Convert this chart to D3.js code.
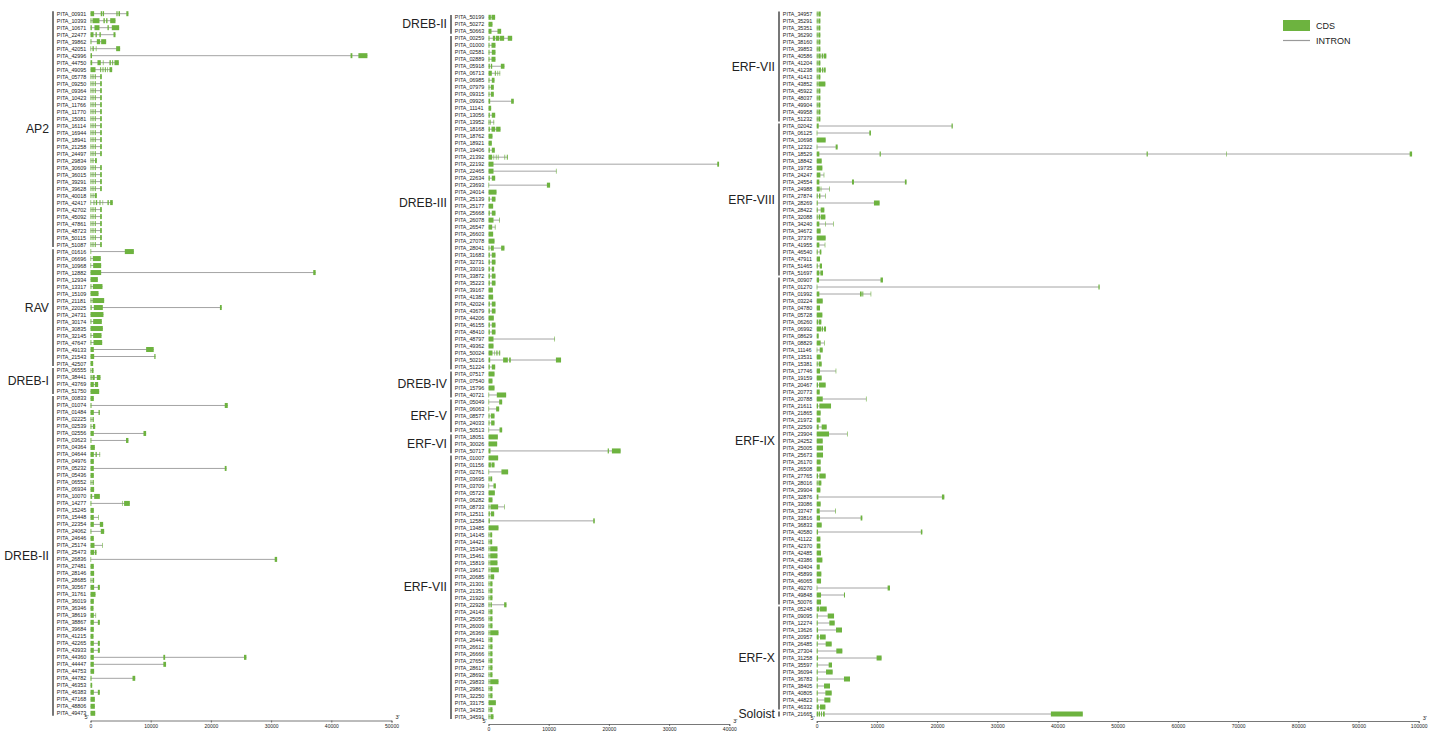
<!DOCTYPE html>
<html>
<head>
<meta charset="utf-8">
<script src="https://cdn.jsdelivr.net/npm/d3@7"></script>
<style>
  body { margin: 0; background: #fff; }
  svg { display: block; font-family: "Liberation Sans", Arial, sans-serif; }
</style>
</head>
<body>
<svg id="chart" width="1444" height="732"></svg>
<script>
// Each gene: [id, CDS intervals as [start, end] in bp from the 5' end]
const AP2 = [
  ["PITA_00931", [[0,600],[1700,1950],[2050,2250],[4300,4500],[4650,4900],[5950,6300]]],
  ["PITA_10393", [[0,160],[330,1490],[2150,2380],[2600,2820],[3270,4150]]],
  ["PITA_10671", [[0,220],[660,1490],[2820,3040],[3540,4760]]],
  ["PITA_22477", [[0,500],[830,1050],[1490,1710],[3820,4150]]],
  ["PITA_39862", [[0,160],[1050,1600],[1770,2600]]],
  ["PITA_42051", [[0,110],[330,550],[880,990],[4260,4920]]],
  ["PITA_42996", [[0,250],[43200,43500],[44500,46000]]],
  ["PITA_44750", [[0,280],[1160,1710],[2050,2160],[3150,3380],[3600,3760],[3980,4700]]],
  ["PITA_49095", [[0,830],[1600,1770],[1990,2160],[2380,2550],[2770,2880],[3150,3600]]],
  ["PITA_05778", [[0,150],[330,500],[700,880],[1600,1880]]],
  ["PITA_09250", [[0,150],[330,500],[700,880],[1600,1880]]],
  ["PITA_09364", [[0,150],[330,500],[700,880],[1600,1880]]],
  ["PITA_10423", [[0,150],[330,500],[700,880],[1600,1880]]],
  ["PITA_11766", [[0,150],[330,500],[700,880],[1600,1880]]],
  ["PITA_11770", [[0,150],[330,500],[700,880],[1600,1880]]],
  ["PITA_15081", [[0,150],[330,500],[700,880],[1600,1880]]],
  ["PITA_16114", [[0,150],[330,500],[700,880],[1600,1880]]],
  ["PITA_16944", [[0,150],[330,500],[700,880],[1600,1880]]],
  ["PITA_18941", [[0,150],[330,500],[700,880],[1600,1880]]],
  ["PITA_21258", [[0,150],[330,500],[700,880],[1600,1880]]],
  ["PITA_24497", [[0,150],[330,500],[700,880],[1600,1880]]],
  ["PITA_29834", [[0,150],[330,500],[750,1050]]],
  ["PITA_30609", [[0,150],[330,500],[700,880],[1600,1880]]],
  ["PITA_36015", [[0,150],[330,500],[700,880],[1600,1880]]],
  ["PITA_39291", [[0,150],[330,500],[700,880],[1600,1880]]],
  ["PITA_39628", [[0,150],[330,500],[700,880],[1600,1880]]],
  ["PITA_40018", [[0,150],[350,500],[700,1050]]],
  ["PITA_42417", [[0,110],[500,660],[880,1110],[1490,1660],[2000,2100],[2820,3040],[3260,3700]]],
  ["PITA_42702", [[0,150],[330,500],[700,880],[1600,1880]]],
  ["PITA_45092", [[0,150],[330,500],[700,880],[1600,1880]]],
  ["PITA_47861", [[0,150],[330,500],[700,880],[1600,1880]]],
  ["PITA_48723", [[0,150],[330,500],[700,880],[1600,1880]]],
  ["PITA_50115", [[0,150],[330,500],[700,880],[1600,1880]]],
  ["PITA_51087", [[0,150],[330,500],[700,880],[1600,1880]]]
];

const RAV = [
  ["PITA_01616", [[0,120],[5700,7200]]],
  ["PITA_06696", [[0,110],[390,1710]]],
  ["PITA_10968", [[0,110],[440,1770]]],
  ["PITA_12882", [[0,1770],[37000,37400]]],
  ["PITA_12934", [[0,1220]]],
  ["PITA_13317", [[0,160],[390,1990]]],
  ["PITA_15109", [[0,1330]]],
  ["PITA_21181", [[0,160],[330,2270]]],
  ["PITA_22025", [[0,200],[550,2050],[21500,21800]]],
  ["PITA_24731", [[0,2150]]],
  ["PITA_30174", [[0,150],[440,1880]]],
  ["PITA_30835", [[0,2050]]],
  ["PITA_32145", [[0,150],[440,1830]]],
  ["PITA_47647", [[0,150],[500,1940]]],
  ["PITA_49133", [[0,550],[9240,10500]]],
  ["PITA_21543", [[0,610],[10600,10800]]],
  ["PITA_42507", [[0,440]]]
];

const DREB_I = [
  ["PITA_06555", [[0,150],[250,500]]],
  ["PITA_38441", [[0,200],[330,700],[1050,1660]]],
  ["PITA_43769", [[0,550],[720,1270]]],
  ["PITA_51750", [[0,1440]]]
];

const DREB_II_A = [
  ["PITA_00833", [[0,550]]],
  ["PITA_01074", [[0,170],[22300,22800]]],
  ["PITA_01484", [[0,550],[1330,1550]]],
  ["PITA_02225", [[0,160],[330,550]]],
  ["PITA_02539", [[0,160],[390,780]]],
  ["PITA_02556", [[0,550],[8800,9240]]],
  ["PITA_03623", [[0,150],[5900,6300]]],
  ["PITA_04364", [[0,720]]],
  ["PITA_04644", [[0,550],[830,1050],[1490,1600]]],
  ["PITA_04976", [[0,550]]],
  ["PITA_05232", [[0,550],[22300,22600]]],
  ["PITA_05436", [[0,550]]],
  ["PITA_06552", [[0,160],[330,550]]],
  ["PITA_06934", [[0,600]]],
  ["PITA_10070", [[0,280],[610,1550]]],
  ["PITA_14277", [[0,150],[5300,5400],[5580,6530]]],
  ["PITA_15245", [[0,550]]],
  ["PITA_15448", [[0,550],[1270,1330]]],
  ["PITA_22354", [[0,550],[1550,2100]]],
  ["PITA_24062", [[0,150],[1710,2270]]],
  ["PITA_24646", [[0,550]]],
  ["PITA_25174", [[0,660],[1940,2000]]],
  ["PITA_25473", [[0,600],[720,1000]]],
  ["PITA_26836", [[0,110],[30600,31000]]],
  ["PITA_27481", [[0,550]]],
  ["PITA_28146", [[0,600]]],
  ["PITA_28685", [[0,160],[330,600]]],
  ["PITA_30567", [[0,600],[1220,1550]]],
  ["PITA_31761", [[0,830]]],
  ["PITA_36019", [[0,550]]],
  ["PITA_36346", [[0,500]]],
  ["PITA_38619", [[0,550],[830,880]]],
  ["PITA_38867", [[0,550],[1220,1550]]],
  ["PITA_39684", [[0,550]]],
  ["PITA_41215", [[0,500]]],
  ["PITA_42265", [[0,550],[1220,1550]]],
  ["PITA_43933", [[0,550],[1220,1550]]],
  ["PITA_44360", [[0,550],[12100,12400],[25500,25900]]],
  ["PITA_44447", [[0,550],[12100,12550]]],
  ["PITA_44753", [[0,600]]],
  ["PITA_44782", [[0,170],[6980,7430]]],
  ["PITA_46353", [[0,280]]],
  ["PITA_46383", [[0,550],[1220,1550]]],
  ["PITA_47168", [[0,720]]],
  ["PITA_48806", [[0,720]]],
  ["PITA_49473", [[0,780]]]
];

const DREB_II_B = [
  ["PITA_50199", [[0,390],[500,1100]]],
  ["PITA_50272", [[0,660]]],
  ["PITA_50663", [[0,500],[1490,2100]]]
];

const DREB_III = [
  ["PITA_00259", [[0,170],[720,1100],[1220,1800],[1900,2600],[3200,3930]]],
  ["PITA_01000", [[0,170],[500,1160]]],
  ["PITA_02581", [[0,170],[550,1160]]],
  ["PITA_02889", [[0,170],[500,1160]]],
  ["PITA_05918", [[0,220],[390,610],[2050,2650]]],
  ["PITA_06713", [[0,550],[1050,1220],[1490,1600],[1830,1940]]],
  ["PITA_06985", [[0,170],[550,1000]]],
  ["PITA_07979", [[0,170],[390,880]]],
  ["PITA_09315", [[0,170],[390,880]]],
  ["PITA_09926", [[0,280],[3760,4200]]],
  ["PITA_11141", [[0,440]]],
  ["PITA_13056", [[0,220],[550,1110]]],
  ["PITA_13952", [[0,170],[280,390],[830,940]]],
  ["PITA_18168", [[0,220],[500,1110],[1270,2000]]],
  ["PITA_18762", [[0,660]]],
  ["PITA_18921", [[0,550]]],
  ["PITA_19406", [[0,220],[550,1050]]],
  ["PITA_21392", [[0,610],[830,940],[1220,1330],[1550,1660],[2650,2770],[3040,3210]]],
  ["PITA_22192", [[0,830],[38000,38300]]],
  ["PITA_22465", [[0,830],[11200,11300]]],
  ["PITA_22634", [[0,220],[550,1110]]],
  ["PITA_23693", [[0,110],[9700,10230]]],
  ["PITA_24014", [[0,1330]]],
  ["PITA_25139", [[0,220],[550,1160]]],
  ["PITA_25177", [[0,770]]],
  ["PITA_25668", [[0,220],[550,1160]]],
  ["PITA_26078", [[0,830],[1770,1880]]],
  ["PITA_26547", [[0,610],[1050,1160]]],
  ["PITA_26603", [[0,770]]],
  ["PITA_27078", [[0,1000]]],
  ["PITA_28041", [[0,170],[390,880],[2100,2650]]],
  ["PITA_31683", [[0,220],[550,1160]]],
  ["PITA_32731", [[0,220],[550,1160]]],
  ["PITA_33019", [[0,220],[550,940]]],
  ["PITA_33872", [[0,220],[550,1160]]],
  ["PITA_35223", [[0,220],[550,1160]]],
  ["PITA_39167", [[0,720]]],
  ["PITA_41382", [[0,770]]],
  ["PITA_42024", [[0,220],[550,1160]]],
  ["PITA_43679", [[0,220],[550,1160]]],
  ["PITA_44206", [[0,880]]],
  ["PITA_46155", [[0,220],[550,1160]]],
  ["PITA_48410", [[0,220],[550,1160]]],
  ["PITA_48797", [[0,830],[10950,11050]]],
  ["PITA_49362", [[0,830]]],
  ["PITA_50024", [[0,660],[990,1050],[1270,1380],[1490,1600],[1770,1940]]],
  ["PITA_50216", [[0,280],[2430,3210],[3430,3700],[11200,12050]]],
  ["PITA_51224", [[0,220],[550,1110]]]
];

const DREB_IV = [
  ["PITA_07517", [[0,1000]]],
  ["PITA_07540", [[0,660]]],
  ["PITA_15796", [[0,1000]]],
  ["PITA_40721", [[0,110],[1380,2930]]]
];

const ERF_V = [
  ["PITA_05049", [[0,110],[1770,2270]]],
  ["PITA_06063", [[0,110],[1270,1770]]],
  ["PITA_08577", [[0,170],[390,1000]]],
  ["PITA_24033", [[0,170],[440,1000]]],
  ["PITA_50513", [[0,110],[1830,2270]]]
];

const ERF_VI = [
  ["PITA_18051", [[0,1550]]],
  ["PITA_30026", [[0,1440]]],
  ["PITA_50717", [[0,330],[19800,20000],[20500,21950]]]
];

const ERF_VII_A = [
  ["PITA_01007", [[0,1600]]],
  ["PITA_01156", [[0,400],[500,1000]]],
  ["PITA_02761", [[0,110],[2150,3260]]],
  ["PITA_03695", [[0,200],[300,610]]],
  ["PITA_03709", [[0,110],[830,1220]]],
  ["PITA_05723", [[0,1050]]],
  ["PITA_06282", [[0,660]]],
  ["PITA_08733", [[0,170],[330,1600],[2600,2660]]],
  ["PITA_12511", [[0,220],[390,940]]],
  ["PITA_12584", [[0,220],[17400,17650]]],
  ["PITA_13485", [[0,1660]]],
  ["PITA_14145", [[0,170],[280,610]]],
  ["PITA_14421", [[0,170],[280,610]]],
  ["PITA_15348", [[0,170],[280,1490]]],
  ["PITA_15461", [[0,170],[280,1490]]],
  ["PITA_15819", [[0,170],[280,1490]]],
  ["PITA_19617", [[0,170],[330,1710]]],
  ["PITA_20685", [[0,170],[330,940]]],
  ["PITA_21301", [[0,170],[280,660]]],
  ["PITA_21351", [[0,170],[280,660]]],
  ["PITA_21929", [[0,170],[280,660]]],
  ["PITA_22928", [[0,170],[330,550],[2600,2990]]],
  ["PITA_24143", [[0,170],[280,660]]],
  ["PITA_25056", [[0,170],[280,660]]],
  ["PITA_26009", [[0,170],[280,660]]],
  ["PITA_26369", [[0,170],[280,1660]]],
  ["PITA_26441", [[0,170],[280,660]]],
  ["PITA_26612", [[0,170],[280,660]]],
  ["PITA_26666", [[0,170],[280,660]]],
  ["PITA_27654", [[0,170],[280,660]]],
  ["PITA_28617", [[0,170],[280,660]]],
  ["PITA_28692", [[0,170],[280,660]]],
  ["PITA_29833", [[0,170],[280,1660]]],
  ["PITA_29861", [[0,170],[280,660]]],
  ["PITA_32250", [[0,170],[280,660]]],
  ["PITA_33175", [[0,1220]]],
  ["PITA_34353", [[0,170],[280,660]]],
  ["PITA_34591", [[0,170],[330,830]]]
];

const ERF_VII_B = [
  ["PITA_34957", [[0,170],[280,660]]],
  ["PITA_35291", [[0,170],[280,610]]],
  ["PITA_35351", [[0,170],[280,610]]],
  ["PITA_36290", [[0,170],[280,610]]],
  ["PITA_38160", [[0,170],[280,610]]],
  ["PITA_39853", [[0,170],[280,610]]],
  ["PITA_40586", [[0,170],[280,660],[830,1050],[1160,1600]]],
  ["PITA_41204", [[0,170],[280,610]]],
  ["PITA_41238", [[0,170],[280,720],[880,1110],[1220,1490]]],
  ["PITA_41413", [[0,170],[280,610]]],
  ["PITA_43852", [[0,170],[280,1440]]],
  ["PITA_45922", [[0,170],[280,610]]],
  ["PITA_48037", [[0,170],[280,610]]],
  ["PITA_49904", [[0,170],[280,610]]],
  ["PITA_49958", [[0,170],[280,610]]],
  ["PITA_51232", [[0,170],[280,610]]]
];

const ERF_VIII = [
  ["PITA_02042", [[0,330],[22400,22600]]],
  ["PITA_06125", [[0,110],[8740,9010]]],
  ["PITA_10698", [[0,1490]]],
  ["PITA_12322", [[0,110],[3150,3480]]],
  ["PITA_18529", [[0,440],[10450,10650],[54800,55000],[68000,68100],[98500,98900]]],
  ["PITA_18842", [[0,830]]],
  ["PITA_19735", [[0,940]]],
  ["PITA_24247", [[0,610],[1160,1220]]],
  ["PITA_24554", [[0,440],[5860,6190],[14650,14930]]],
  ["PITA_24988", [[0,500],[660,770],[2100,2160]]],
  ["PITA_27874", [[0,170],[390,610],[1380,1440]]],
  ["PITA_28269", [[0,170],[9510,10450]]],
  ["PITA_28422", [[0,170],[660,1270]]],
  ["PITA_32088", [[0,170],[330,550],[660,1440]]],
  ["PITA_34240", [[0,440],[1380,1440],[2710,2770]]],
  ["PITA_34672", [[0,550],[600,660]]],
  ["PITA_37379", [[0,1490]]],
  ["PITA_41955", [[0,440],[1330,1380]]],
  ["PITA_46540", [[0,170],[500,770]]],
  ["PITA_47911", [[0,550]]],
  ["PITA_51465", [[0,170],[500,880]]],
  ["PITA_51697", [[0,440],[610,1050]]]
];

const ERF_IX = [
  ["PITA_00907", [[0,390],[10600,11000]]],
  ["PITA_01270", [[0,110],[46800,47000]]],
  ["PITA_01992", [[0,440],[7190,7470],[7580,7740],[8960,9010]]],
  ["PITA_03224", [[0,1000]]],
  ["PITA_04780", [[0,550]]],
  ["PITA_05728", [[0,940]]],
  ["PITA_06260", [[0,220],[330,770]]],
  ["PITA_06992", [[0,770],[880,1050],[1220,1550]]],
  ["PITA_08629", [[0,330]]],
  ["PITA_08829", [[0,660],[1220,1270]]],
  ["PITA_11146", [[0,110],[500,1000]]],
  ["PITA_13531", [[0,660]]],
  ["PITA_15381", [[0,170],[330,830]]],
  ["PITA_17746", [[0,550],[3150,3210]]],
  ["PITA_19159", [[0,830]]],
  ["PITA_20467", [[0,220],[390,1490]]],
  ["PITA_20773", [[0,500]]],
  ["PITA_20788", [[0,1000],[8180,8240]]],
  ["PITA_21611", [[0,220],[440,2380]]],
  ["PITA_21865", [[0,660]]],
  ["PITA_21972", [[0,610]]],
  ["PITA_22509", [[0,330],[830,1660]]],
  ["PITA_23904", [[0,2050],[5030,5090]]],
  ["PITA_24252", [[0,1000]]],
  ["PITA_25005", [[0,1050]]],
  ["PITA_25673", [[0,1050]]],
  ["PITA_26170", [[0,660]]],
  ["PITA_26508", [[0,660]]],
  ["PITA_27765", [[0,220],[440,1490]]],
  ["PITA_28016", [[0,170],[280,770]]],
  ["PITA_29904", [[0,610]]],
  ["PITA_32876", [[0,280],[20800,21200]]],
  ["PITA_33086", [[0,660]]],
  ["PITA_33747", [[0,500],[3040,3150]]],
  ["PITA_33816", [[0,550],[7300,7580]]],
  ["PITA_36833", [[0,830]]],
  ["PITA_40580", [[0,220],[17300,17550]]],
  ["PITA_41122", [[0,610]]],
  ["PITA_42370", [[0,610]]],
  ["PITA_42485", [[0,720]]],
  ["PITA_43386", [[0,940]]],
  ["PITA_43404", [[0,500]]],
  ["PITA_45899", [[0,770]]],
  ["PITA_46065", [[0,720]]],
  ["PITA_49270", [[0,110],[11780,12170]]],
  ["PITA_49848", [[0,720],[4530,4700]]],
  ["PITA_50076", [[0,720]]]
];

const ERF_X = [
  ["PITA_05248", [[0,440],[550,1660]]],
  ["PITA_09095", [[0,170],[1830,2880]]],
  ["PITA_12274", [[0,170],[2100,2990]]],
  ["PITA_13626", [[0,220],[3210,4200]]],
  ["PITA_20957", [[0,330],[550,1490]]],
  ["PITA_26485", [[0,170],[1490,2490]]],
  ["PITA_27304", [[0,170],[3260,4260]]],
  ["PITA_31258", [[0,220],[9950,10780]]],
  ["PITA_35597", [[0,170],[1990,2540]]],
  ["PITA_36094", [[0,170],[1550,2650]]],
  ["PITA_36783", [[0,170],[4530,5530]]],
  ["PITA_38405", [[0,170],[1220,2210]]],
  ["PITA_40805", [[0,170],[1440,2490]]],
  ["PITA_44823", [[0,170],[1270,2270]]],
  ["PITA_46332", [[0,330],[550,1440]]]
];

const SOLOIST = [
  ["PITA_21665", [[0,220],[330,550],[720,880],[1050,1330],[38900,44200]]]
];

// Which families go in which column, and the tick values of each column's axis
const column1 = [["AP2", AP2], ["RAV", RAV], ["DREB-I", DREB_I], ["DREB-II", DREB_II_A]];
const column2 = [["DREB-II", DREB_II_B], ["DREB-III", DREB_III], ["DREB-IV", DREB_IV],
                 ["ERF-V", ERF_V], ["ERF-VI", ERF_VI], ["ERF-VII", ERF_VII_A]];
const column3 = [["ERF-VII", ERF_VII_B], ["ERF-VIII", ERF_VIII], ["ERF-IX", ERF_IX],
                 ["ERF-X", ERF_X], ["Soloist", SOLOIST]];
const ticks1 = [0, 10000, 20000, 30000, 40000, 50000];
const ticks2 = [0, 10000, 20000, 30000, 40000];
const ticks3 = [0, 10000, 20000, 30000, 40000, 50000, 60000, 70000, 80000, 90000, 100000];
const legendItems = ["CDS", "INTRON"];

const CDS_COLOR = "#6db33f";
const INTRON_COLOR = "#9a9a9a";
const BAR_COLOR = "#555";

// Panel geometry
const panels = [
  { fams: column1, ticks: ticks1, max: 50000,  barX: 53,  x0: 90.5,  top: 13.7, bottom: 713.3, axisY: 720.5 },
  { fams: column2, ticks: ticks2, max: 40000,  barX: 451, x0: 488.5, top: 17.3, bottom: 716.7, axisY: 724 },
  { fams: column3, ticks: ticks3, max: 100000, barX: 779, x0: 816.7, top: 14,   bottom: 714,   axisY: 721 }
];
const PX_PER_BP = 6.02 / 1000;

const svg = d3.select("#chart");

panels.forEach(p => {
  const genes = p.fams.flatMap(([fam, list]) => list.map(g => ({ fam, id: g[0], exons: g[1] })));
  const x = d3.scaleLinear().domain([0, p.max]).range([p.x0, p.x0 + p.max * PX_PER_BP]);
  const y = d3.scalePoint().domain(genes.map(g => g.id)).range([p.top, p.bottom]);
  const g = svg.append("g");

  // family brackets and names
  p.fams.forEach(([fam, list]) => {
    const y1 = y(list[0][0]) - 3.2, y2 = y(list[list.length - 1][0]) + 3.2;
    g.append("line")
      .attr("x1", p.barX).attr("x2", p.barX)
      .attr("y1", y1 + 0.8).attr("y2", y2 - 0.8)
      .attr("stroke", BAR_COLOR).attr("stroke-width", 1.6);
    g.append("text")
      .attr("x", p.barX - 4).attr("y", (y1 + y2) / 2)
      .attr("text-anchor", "end").attr("dominant-baseline", "central")
      .attr("font-size", 12.2).attr("fill", "#222")
      .text(fam);
  });

  // gene rows
  const row = g.selectAll("g.gene").data(genes).join("g").attr("class", "gene");
  row.append("text")
    .attr("x", p.barX + 3.8).attr("y", d => y(d.id))
    .attr("dominant-baseline", "central")
    .attr("font-size", 5.4).attr("fill", "#222")
    .text(d => d.id);
  row.append("line")
    .attr("x1", d => x(d.exons[0][0]))
    .attr("x2", d => x(d.exons[d.exons.length - 1][1]))
    .attr("y1", d => y(d.id)).attr("y2", d => y(d.id))
    .attr("stroke", INTRON_COLOR).attr("stroke-width", 0.9);
  row.selectAll("rect")
    .data(d => d.exons.map(e => ({ e, id: d.id })))
    .join("rect")
    .attr("x", d => x(d.e[0]))
    .attr("width", d => Math.max(0.6, x(d.e[1]) - x(d.e[0])))
    .attr("y", d => y(d.id) - 2.5).attr("height", 5)
    .attr("fill", CDS_COLOR);

  // position axis with 5'/3' ends
  const axis = d3.axisBottom(x).tickValues(p.ticks).tickFormat(d3.format("d")).tickSize(2).tickPadding(1.5);
  const ag = g.append("g").attr("transform", `translate(0,${p.axisY})`).call(axis);
  ag.select(".domain").attr("stroke", "#555").attr("stroke-width", 0.8);
  ag.selectAll(".tick line").attr("stroke", "#555").attr("stroke-width", 0.8);
  ag.selectAll(".tick text").attr("font-size", 5).attr("fill", "#222")
    .attr("font-family", "Liberation Sans, Arial, sans-serif");
  g.append("text").attr("x", x(0) - 2).attr("y", p.axisY - 1.5)
    .attr("text-anchor", "end").attr("font-size", 5.5).attr("fill", "#222").text("5'");
  g.append("text").attr("x", x(p.max) + 4).attr("y", p.axisY - 1.5)
    .attr("font-size", 5.5).attr("fill", "#222").text("3'");
});

// legend
const lg = svg.append("g").attr("transform", "translate(1283,20)");
lg.append("rect").attr("x", 0).attr("y", 0).attr("width", 27).attr("height", 11).attr("fill", CDS_COLOR);
lg.append("line").attr("x1", 0).attr("x2", 27).attr("y1", 20.5).attr("y2", 20.5)
  .attr("stroke", INTRON_COLOR).attr("stroke-width", 1.2);
lg.selectAll("text").data(legendItems).join("text")
  .attr("x", 33).attr("y", (d, i) => i === 0 ? 5.5 : 20.5)
  .attr("dominant-baseline", "central")
  .attr("font-size", 9).attr("fill", "#222")
  .text(d => d);
</script>
</body>
</html>
